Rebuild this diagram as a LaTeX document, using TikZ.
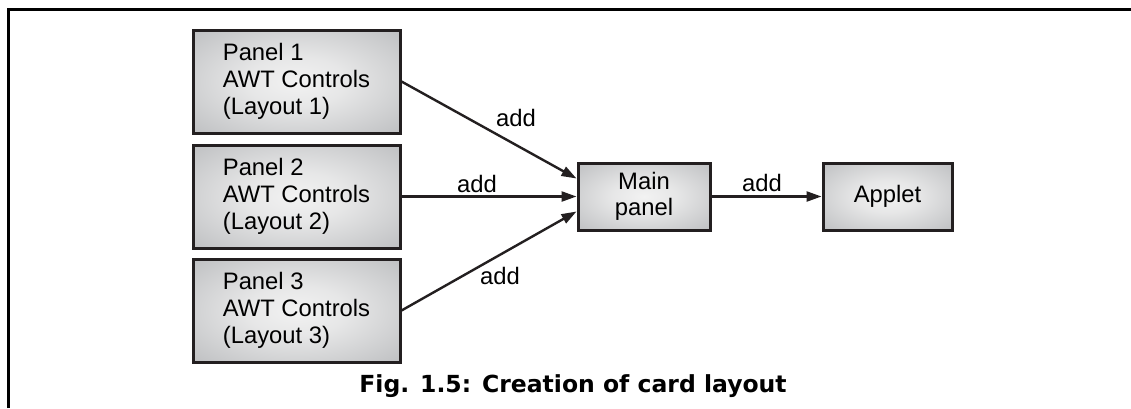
\documentclass[tikz,border=0pt]{standalone}
\usepackage{fontspec}
\setmainfont{Liberation Sans}
\newfontfamily\capfont{DejaVu Sans}
\usetikzlibrary{arrows.meta}
\definecolor{edgecol}{HTML}{231F20}
\definecolor{shadein}{HTML}{F2F2F2}
\definecolor{shadeout}{HTML}{A6A8AB}
\pgfdeclareradialshading{boxshade}{\pgfpoint{0bp}{0bp}}{color(0bp)=(shadein); color(12bp)=(shadein!85!shadeout); color(50bp)=(shadeout); color(72bp)=(shadeout!90!black)}
\tikzset{
  panelbox/.style={draw=edgecol, line width=3pt, shading=boxshade, rectangle,
    minimum width=207pt, minimum height=103pt, inner sep=0pt, align=left,
    font=\fontsize{23.8}{27}\selectfont},
  smallbox/.style={panelbox, minimum width=132pt, minimum height=67pt, align=center,
    font=\fontsize{23.8}{26}\selectfont},
  conn/.style={line width=2.4pt, draw=edgecol, -{Triangle[length=15pt,width=10pt]}},
  lbl/.style={font=\fontsize{23.8}{27}\selectfont, inner sep=0pt}
}
\begin{document}
\begin{tikzpicture}[x=1pt,y=-1pt]
\useasboundingbox (0,0) rectangle (1131,408);
\fill[white] (0,0) rectangle (1131,408);
% frame
\draw[line width=3pt, black] (8,408) -- (8,9.5) -- (1131,9.5);
% boxes
\node[panelbox] (p1) at (296.5,81.5) {Panel 1\\AWT Controls\\(Layout 1)};
\node[panelbox] (p2) at (296.5,196.5) {Panel 2\\AWT Controls\\(Layout 2)};
\node[panelbox] (p3) at (296.5,310.5) {Panel 3\\AWT Controls\\(Layout 3)};
\node[smallbox] (main) at (644,196.5) {Main\\panel};
\node[smallbox, minimum width=129pt] (app) at (887.5,196.5) {Applet};
% connectors
\coordinate (m1) at ([yshift=18pt]main.west);
\coordinate (m3) at ([yshift=-15pt]main.west);
\draw[conn] (p1.east) -- (m1);
\draw[conn] (p2.east) -- (main.west);
\draw[conn] (p3.east) -- (m3);
\draw[conn] (main.east) -- (app.west);
% labels
\node[lbl] (a1) at (516,118) {add};
\node[lbl] (a2) at (477,184) {add};
\node[lbl] (a3) at (500,276) {add};
\node[lbl] (a4) at (762,183) {add};
% caption
\node[font=\capfont\bfseries\fontsize{23.5}{26}\selectfont, inner sep=0pt] (cap) at (573,386) {Fig. 1.5: Creation of card layout};
\end{tikzpicture}
\end{document}
